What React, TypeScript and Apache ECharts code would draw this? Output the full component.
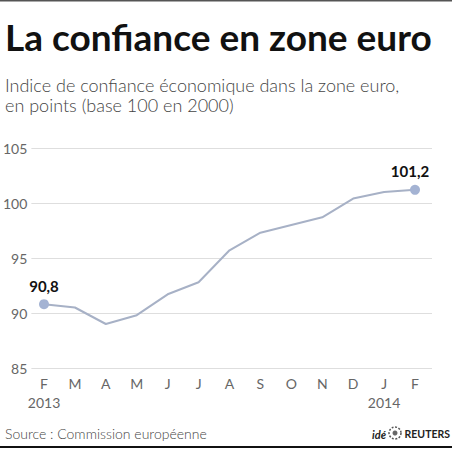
import React, { useEffect, useRef } from "react";
import * as echarts from "echarts";

const months = ["F", "M", "A", "M", "J", "J", "A", "S", "O", "N", "D", "J", "F"];
const yearLabels: Record<number, string> = { 0: "2013", 11: "2014" };
const values = [90.8, 90.5, 89.0, 89.8, 91.7, 92.8, 95.7, 97.3, 98.0, 98.7, 100.4, 101.0, 101.2];
const yTicks = { min: 85, max: 105, interval: 5 };

const FONT = "Lato, 'Open Sans', sans-serif";

export default function App() {
  const ref = useRef<HTMLDivElement>(null);
  useEffect(() => {
    document.body.style.margin = "0";
    const chart = echarts.init(ref.current!, undefined, { renderer: "svg" });
    const last = values.length - 1;
    chart.setOption({
      animation: false,
      backgroundColor: "#ffffff",
      grid: [
        { left: 30, right: 20, top: 148, height: 220 },
        { left: 44, right: 37, top: 148, height: 220 },
      ],
      xAxis: [
        { gridIndex: 0, type: "value", min: 0, max: 1, show: false },
        {
          gridIndex: 1,
          type: "category",
          data: months,
          boundaryGap: false,
          axisLine: { show: false },
          axisTick: { show: false },
          splitLine: { show: false },
          axisLabel: {
            interval: 0,
            margin: 6,
            color: "#666",
            fontFamily: FONT,
            fontSize: 14,
            lineHeight: 19,
            formatter: (v: string, i: number) => (yearLabels[i] ? v + "\n" + yearLabels[i] : v),
          },
        },
      ],
      yAxis: [
        {
          gridIndex: 0,
          type: "value",
          min: yTicks.min,
          max: yTicks.max,
          interval: yTicks.interval,
          axisLine: { show: false },
          axisTick: { show: false },
          splitLine: { lineStyle: { color: "#dedede", width: 1 } },
          axisLabel: { margin: 4, color: "#666", fontFamily: FONT, fontSize: 14 },
        },
        {
          gridIndex: 1,
          type: "value",
          min: yTicks.min,
          max: yTicks.max,
          interval: yTicks.interval,
          show: false,
        },
      ],
      series: [
        {
          type: "line",
          xAxisIndex: 1,
          yAxisIndex: 1,
          data: values.map((v, i) => ({
            value: v,
            symbol: i === 0 || i === last ? "circle" : "none",
            symbolSize: 10,
            label:
              i === 0 || i === last
                ? {
                    show: true,
                    position: "top",
                    distance: 6,
                    offset: i === last ? [-5, 0] : [0, 0],
                    formatter: () => String(v.toFixed(1)).replace(".", ","),
                    color: "#111",
                    fontFamily: FONT,
                    fontWeight: "bold",
                    fontSize: 15,
                  }
                : { show: false },
          })),
          lineStyle: { color: "#a7b1c6", width: 2 },
          itemStyle: { color: "#a4b3d3", borderWidth: 0 },
          emphasis: { disabled: true },
        },
      ],
      graphic: [
        { type: "rect", shape: { x: 0, y: 0, width: 452, height: 1.5 }, style: { fill: "#555" } },
        { type: "rect", shape: { x: 0, y: 446, width: 452, height: 2 }, style: { fill: "#111" } },
        {
          type: "text",
          x: 5,
          y: 36,
          style: {
            text: "La confiance en zone euro",
            font: `bold 37px ${FONT}`,
            fill: "#111",
            verticalAlign: "middle",
          },
        },
        {
          type: "text",
          x: 5,
          y: 75,
          style: {
            text: "Indice de confiance économique dans la zone euro,\nen points (base 100 en 2000)",
            font: `300 18px ${FONT}`,
            lineHeight: 20,
            fill: "#444",
            verticalAlign: "top",
          },
        },
        {
          type: "text",
          x: 5,
          y: 433,
          style: {
            text: "Source : Commission européenne",
            font: `300 14px ${FONT}`,
            fill: "#444",
            verticalAlign: "middle",
          },
        },
        {
          type: "text",
          x: 372,
          y: 434,
          style: { text: "idé", font: `italic bold 11px ${FONT}`, fill: "#222", verticalAlign: "middle" },
        },
        { type: "circle", shape: { cx: 395, cy: 433, r: 6 }, style: { fill: "#fff", stroke: "#555", lineWidth: 1.5, lineDash: [2, 1.5] } },
        { type: "circle", shape: { cx: 395, cy: 433, r: 2.5 }, style: { fill: "#666" } },
        {
          type: "text",
          x: 450,
          y: 434,
          style: { text: "REUTERS", font: `bold 10.5px ${FONT}`, fill: "#222", verticalAlign: "middle", align: "right" },
        },
      ],
    });
    return () => chart.dispose();
  }, []);
  return <div ref={ref} style={{ width: 452, height: 449 }} />;
}
